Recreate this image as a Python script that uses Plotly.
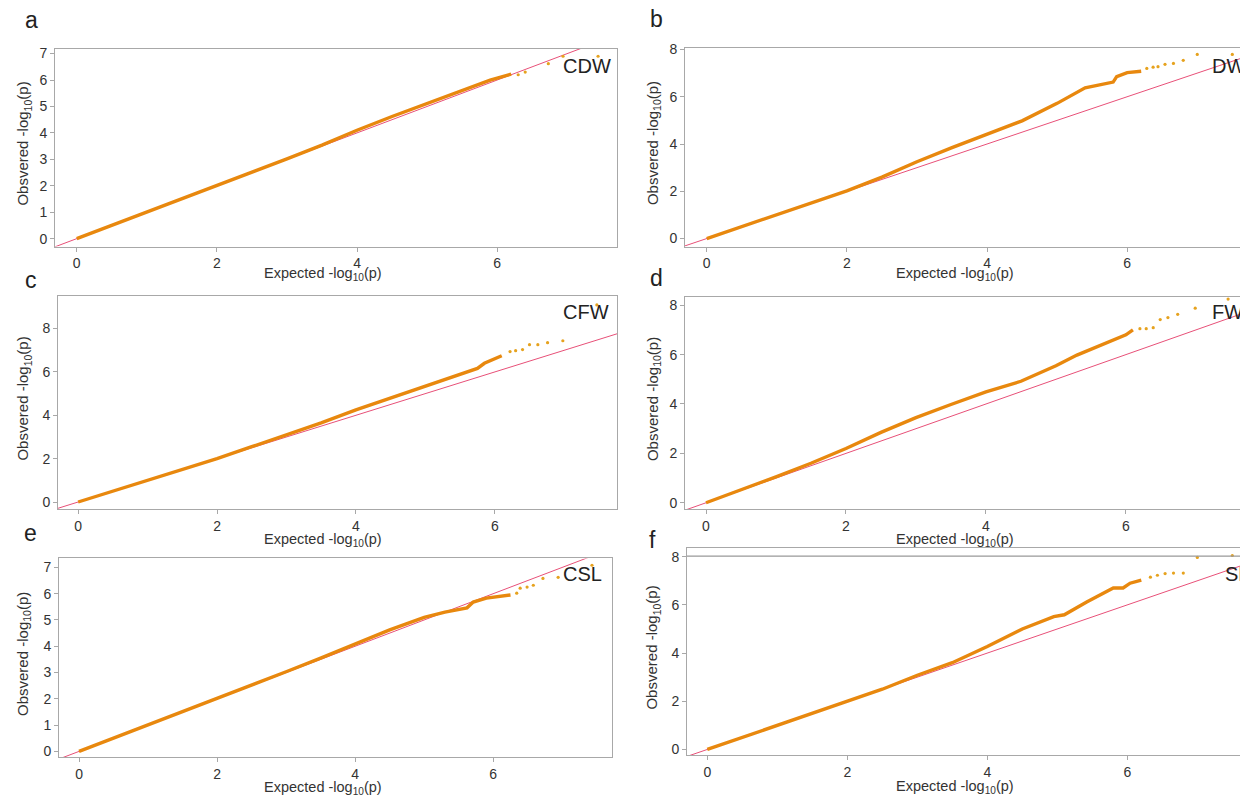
import plotly.graph_objects as go

W, H = 1240, 803

# ---------------- data ----------------
TRAITS = ["CDW", "DW", "CFW", "FW", "CSL", "SL"]
PANEL_LETTERS = ["a", "b", "c", "d", "e", "f"]

# main (dense) part of each QQ curve: expected vs observed -log10(p)
CDW_X = [0, 0.5, 1, 1.5, 2, 2.5, 3, 3.5, 4, 4.5, 5, 5.5, 5.9, 6.2]
CDW_Y = [0, 0.5, 1, 1.5, 2, 2.5, 3.02, 3.54, 4.1, 4.62, 5.12, 5.6, 6.0, 6.22]
CDW_TAIL_X = [6.3, 6.4, 6.73, 6.94, 7.44]
CDW_TAIL_Y = [6.2, 6.3, 6.62, 6.9, 6.9]

DW_X = [0, 0.5, 1, 1.5, 2, 2.5, 3, 3.5, 4, 4.5, 5, 5.4, 5.8, 5.85, 6.0, 6.2]
DW_Y = [0, 0.5, 1.02, 1.5, 2.02, 2.6, 3.25, 3.85, 4.4, 4.98, 5.72, 6.38, 6.62, 6.85, 7.02, 7.08]
DW_TAIL_X = [6.28, 6.37, 6.44, 6.54, 6.66, 6.8, 7.0, 7.5]
DW_TAIL_Y = [7.2, 7.25, 7.27, 7.37, 7.41, 7.54, 7.79, 7.79]

CFW_X = [0, 0.5, 1, 1.5, 2, 2.5, 3, 3.5, 4, 4.5, 5, 5.5, 5.75, 5.85, 6.1]
CFW_Y = [0, 0.5, 1, 1.5, 2.0, 2.55, 3.1, 3.65, 4.25, 4.8, 5.35, 5.9, 6.16, 6.4, 6.75]
CFW_TAIL_X = [6.22, 6.3, 6.4, 6.5, 6.62, 6.76, 6.98, 7.47]
CFW_TAIL_Y = [6.94, 6.98, 7.03, 7.26, 7.26, 7.35, 7.44, 9.09]

FW_X = [0, 0.5, 1, 1.5, 2, 2.5, 3, 3.5, 4, 4.5, 5, 5.3, 5.7, 6.0, 6.1]
FW_Y = [0, 0.52, 1.05, 1.6, 2.2, 2.85, 3.45, 3.98, 4.49, 4.92, 5.55, 5.98, 6.45, 6.8, 7.0]
FW_TAIL_X = [6.2, 6.29, 6.39, 6.49, 6.6, 6.74, 6.99, 7.46]
FW_TAIL_Y = [7.05, 7.05, 7.09, 7.42, 7.5, 7.63, 7.88, 8.25]

CSL_X = [0, 0.5, 1, 1.5, 2, 2.5, 3, 3.5, 4, 4.5, 5, 5.3, 5.62, 5.71, 5.9, 6.25]
CSL_Y = [0, 0.5, 1, 1.5, 2, 2.5, 3.03, 3.55, 4.08, 4.62, 5.1, 5.3, 5.46, 5.68, 5.83, 5.95]
CSL_TAIL_X = [6.34, 6.39, 6.49, 6.58, 6.72, 6.94, 7.43]
CSL_TAIL_Y = [6.02, 6.21, 6.25, 6.32, 6.58, 6.62, 7.08]

SL_X = [0, 0.5, 1, 1.5, 2, 2.5, 3, 3.5, 4, 4.5, 4.95, 5.1, 5.42, 5.8, 5.94, 6.04, 6.2]
SL_Y = [0, 0.5, 1, 1.5, 2.01, 2.5, 3.08, 3.6, 4.27, 5.0, 5.51, 5.59, 6.12, 6.7, 6.7, 6.9, 7.03]
SL_TAIL_X = [6.33, 6.43, 6.54, 6.66, 6.8, 7.0, 7.5]
SL_TAIL_Y = [7.15, 7.23, 7.3, 7.32, 7.32, 7.97, 8.05]

SL_HLINE = 8.02          # grey horizontal line in panel f

X_TICKS = [0, 2, 4, 6]
Y_TICKS_1 = [0, 1, 2, 3, 4, 5, 6, 7]
Y_TICKS_2 = [0, 2, 4, 6, 8]

DIAG = [-1, 10]          # expected line y = x

CURVES = [
    (CDW_X, CDW_Y, CDW_TAIL_X, CDW_TAIL_Y),
    (DW_X, DW_Y, DW_TAIL_X, DW_TAIL_Y),
    (CFW_X, CFW_Y, CFW_TAIL_X, CFW_TAIL_Y),
    (FW_X, FW_Y, FW_TAIL_X, FW_TAIL_Y),
    (CSL_X, CSL_Y, CSL_TAIL_X, CSL_TAIL_Y),
    (SL_X, SL_Y, SL_TAIL_X, SL_TAIL_Y),
]

# ---------------- layout (pixel boxes) ----------------
# (left, top, right, bottom) in px, x range, y range, y ticks, x-title offset
PANELS = [
    ((55, 43, 617, 243), (-0.31, 7.71), (-0.30, 7.19), Y_TICKS_1, 28),
    ((685, 42, 1240, 243), (-0.31, 7.61), (-0.34, 8.08), Y_TICKS_2, 28),
    ((58, 293, 617, 508), (-0.29, 7.76), (-0.32, 9.50), Y_TICKS_2, 31),
    ((685, 294, 1240, 508), (-0.30, 7.63), (-0.25, 8.33), Y_TICKS_2, 31),
    ((59, 558, 612, 759), (-0.29, 7.72), (-0.23, 7.34), Y_TICKS_1, 31),
    ((687, 547, 1240, 757), (-0.29, 7.61), (-0.25, 8.38), Y_TICKS_2, 32),
]

LETTER_POS = [(31, 14), (656, 13), (31, 277), (656, 275), (30, 532), (652, 539)]
TRAIT_POS = [(613, 61, "right"), (1210, 61, "left"), (611, 309, "right"),
             (1210, 309, "left"), (604, 574, "right"), (1223, 574, "left")]

FONT = "Liberation Sans, Arial, sans-serif"
ORANGE = "#E8880E"
TAIL = "#E6A21E"
RED = "#E85078"
BOX = "#A8A8A8"
TXT = "#333333"


def px(xp):
    return xp / W


def py(yp):
    return (H - yp) / H


fig = go.Figure()
annotations = []
shapes = []
layout = {}

for i, ((l, t, r, b), xr, yr, yt, toff) in enumerate(PANELS):
    n = i + 1
    xa = "x" if n == 1 else f"x{n}"
    ya = "y" if n == 1 else f"y{n}"
    xkey = "xaxis" if n == 1 else f"xaxis{n}"
    ykey = "yaxis" if n == 1 else f"yaxis{n}"
    right_col = (i % 2 == 1)

    cx, cy, tx, ty = CURVES[i]
    fig.add_trace(go.Scatter(x=DIAG, y=DIAG, mode="lines", xaxis=xa, yaxis=ya,
                             line=dict(color=RED, width=1), hoverinfo="skip"))
    fig.add_trace(go.Scatter(x=cx, y=cy, mode="lines", xaxis=xa, yaxis=ya,
                             line=dict(color=ORANGE, width=3.4)))
    fig.add_trace(go.Scatter(x=tx, y=ty, mode="markers", xaxis=xa, yaxis=ya,
                             marker=dict(color=TAIL, size=3.2), cliponaxis=True))

    layout[xkey] = dict(domain=[px(l), px(r)], range=list(xr), anchor=ya,
                        tickvals=X_TICKS, ticks="outside", ticklen=4, tickcolor=BOX,
                        showline=True, linecolor=BOX, linewidth=1, mirror=True,
                        showgrid=False, zeroline=False,
                        tickfont=dict(family=FONT, size=14, color=TXT))
    layout[ykey] = dict(domain=[py(b), py(t)], range=list(yr), anchor=xa,
                        tickvals=yt, ticks="outside", ticklen=4, tickcolor=BOX,
                        showline=True, linecolor=BOX, linewidth=1,
                        mirror=(not right_col),
                        showgrid=False, zeroline=False,
                        tickfont=dict(family=FONT, size=14, color=TXT))

    # axis titles
    xc = 323 if not right_col else 955
    annotations.append(dict(text="Expected -log<sub>10</sub>(p)", xref="paper", yref="paper",
                            x=px(xc), y=py(b + toff), xanchor="center", yanchor="middle",
                            showarrow=False, font=dict(family=FONT, size=14.5, color=TXT)))
    yx = 24 if not right_col else 653
    annotations.append(dict(text="Obsvered -log<sub>10</sub>(p)", xref="paper", yref="paper",
                            x=px(yx), y=py((t + b) / 2 - 4), xanchor="center", yanchor="middle",
                            textangle=-90, showarrow=False,
                            font=dict(family=FONT, size=15, color=TXT)))
    # panel letter
    lx, ly = LETTER_POS[i]
    annotations.append(dict(text=PANEL_LETTERS[i], xref="paper", yref="paper",
                            x=px(lx), y=py(ly), xanchor="center", yanchor="middle",
                            showarrow=False, font=dict(family=FONT, size=23, color="#222222")))
    # trait label
    tx_, ty_, anc = TRAIT_POS[i]
    annotations.append(dict(text=TRAITS[i], xref="paper", yref="paper",
                            x=px(tx_), y=py(ty_), xanchor=anc, yanchor="middle",
                            showarrow=False, font=dict(family=FONT, size=20, color="#222222")))

# grey horizontal line in panel f
shapes.append(dict(type="line", xref="x6 domain", yref="y6", x0=0, x1=1,
                   y0=SL_HLINE, y1=SL_HLINE, line=dict(color="#999999", width=1.2)))

fig.update_layout(width=W, height=H, margin=dict(l=0, r=0, t=0, b=0),
                  paper_bgcolor="white", plot_bgcolor="white", showlegend=False,
                  annotations=annotations, shapes=shapes, **layout)

fig.write_html("out.html", config={"displayModeBar": False},
               post_script="document.body.style.margin='0px';document.body.style.overflow='hidden';")
